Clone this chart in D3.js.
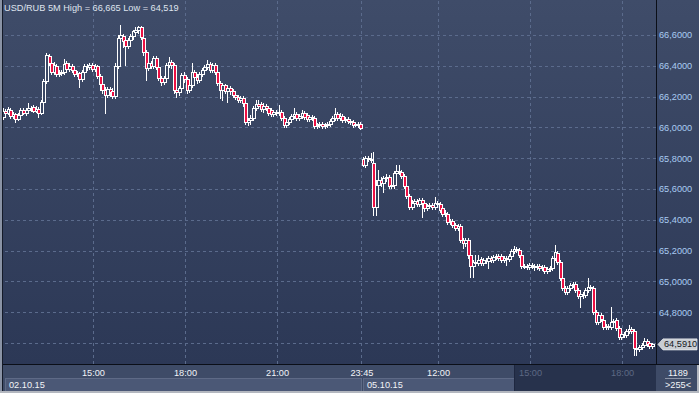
<!DOCTYPE html>
<html><head><meta charset="utf-8">
<script src="https://cdn.jsdelivr.net/npm/d3@7"></script>
<style>html,body{margin:0;padding:0;background:#2f3b58;overflow:hidden}svg{display:block}</style>
</head><body><svg id="c" width="699" height="393"></svg>
<script>
const title = "USD/RUB 5M High = 66,665 Low = 64,519";
const gridPrices = [64.6, 64.8, 65.0, 65.2, 65.4, 65.6, 65.8, 66.0, 66.2, 66.4, 66.6];
const priceLabels = [64.8, 65.0, 65.2, 65.4, 65.6, 65.8, 66.0, 66.2, 66.4, 66.6];
const timeTickIdx = [35, 71, 107, 140, 170, 206, 242];
const timeTickLabels = ["15:00", "18:00", "21:00", "23:45", "12:00", "15:00", "18:00"];
const dateLabels = ["02.10.15", "05.10.15"];
const dateStartIdx = [0, 141];
const lastPrice = 64.591;
const totalBars = 1189;
const visibleBars = 255;

const open = [
66.067,66.106,66.093,66.113,66.074,66.087,66.054,66.080,66.113,66.093,
66.113,66.126,66.132,66.106,66.119,66.093,66.165,66.301,66.464,66.418,
66.360,66.399,66.347,66.353,66.360,66.418,66.379,66.399,66.373,66.347,
66.353,66.314,66.360,66.399,66.392,66.405,66.379,66.399,66.334,66.282,
66.243,66.210,66.249,66.236,66.204,66.399,66.581,66.594,66.568,66.529,
66.568,66.594,66.619,66.632,66.652,66.581,66.490,66.386,66.418,66.399,
66.451,66.392,66.321,66.295,66.321,66.405,66.425,66.405,66.243,66.230,
66.256,66.340,66.314,66.243,66.275,66.360,66.327,66.308,66.347,66.373,
66.392,66.412,66.373,66.405,66.360,66.288,66.243,66.275,66.236,66.256,
66.236,66.210,66.197,66.178,66.191,66.158,66.035,66.048,66.061,66.126,
66.152,66.152,66.119,66.139,66.126,66.113,66.087,66.100,66.093,66.100,
66.061,66.015,66.035,66.054,66.074,66.087,66.061,66.074,66.093,66.080,
66.054,66.067,66.061,66.009,66.015,66.022,66.009,66.015,66.022,66.041,
66.061,66.087,66.061,66.074,66.048,66.054,66.041,66.035,66.015,66.022,
66.022,65.795,65.756,65.801,65.795,65.769,65.483,65.626,65.658,65.639,
65.671,65.678,65.619,65.626,65.704,65.717,65.710,65.684,65.619,65.555,
65.483,65.509,65.522,65.503,65.529,65.509,65.477,65.490,65.496,65.483,
65.509,65.503,65.477,65.438,65.438,65.386,65.392,65.366,65.347,65.360,
65.269,65.250,65.269,65.172,65.100,65.126,65.119,65.146,65.119,65.139,
65.132,65.152,65.139,65.159,65.165,65.165,65.139,65.152,65.146,65.165,
65.198,65.211,65.204,65.172,65.100,65.100,65.093,65.106,65.100,65.093,
65.100,65.087,65.093,65.067,65.080,65.087,65.152,65.185,65.126,65.022,
64.957,64.931,64.957,64.977,64.983,64.944,64.905,64.918,64.912,64.944,
64.964,64.957,64.801,64.736,64.782,64.749,64.704,64.710,64.704,64.736,
64.749,64.697,64.639,64.658,64.652,64.678,64.691,64.678,64.567,64.561,
64.574,64.587,64.613,64.600,64.580];

const high = [
66.126,66.119,66.132,66.126,66.100,66.093,66.093,66.126,66.126,66.126,
66.158,66.139,66.145,66.139,66.132,66.178,66.314,66.483,66.477,66.438,
66.425,66.412,66.373,66.373,66.444,66.431,66.418,66.412,66.386,66.366,
66.360,66.373,66.412,66.412,66.418,66.418,66.412,66.405,66.347,66.295,
66.262,66.262,66.262,66.256,66.418,66.600,66.665,66.606,66.587,66.581,
66.606,66.632,66.652,66.658,66.658,66.594,66.503,66.438,66.431,66.464,
66.464,66.405,66.334,66.334,66.418,66.457,66.438,66.418,66.256,66.269,
66.353,66.360,66.327,66.288,66.418,66.373,66.347,66.360,66.386,66.405,
66.438,66.425,66.418,66.418,66.373,66.301,66.288,66.282,66.269,66.269,
66.249,66.223,66.210,66.204,66.204,66.171,66.061,66.080,66.139,66.178,
66.178,66.165,66.158,66.152,66.139,66.126,66.113,66.113,66.145,66.113,
66.074,66.048,66.067,66.087,66.126,66.100,66.087,66.113,66.106,66.093,
66.080,66.080,66.074,66.028,66.035,66.035,66.028,66.035,66.054,66.074,
66.126,66.100,66.093,66.087,66.067,66.067,66.054,66.048,66.035,66.035,
66.035,65.808,65.814,65.814,65.834,65.840,65.658,65.723,65.678,65.684,
65.697,65.691,65.645,65.717,65.756,65.756,65.723,65.697,65.632,65.568,
65.529,65.535,65.535,65.542,65.542,65.522,65.503,65.509,65.509,65.548,
65.522,65.516,65.490,65.464,65.451,65.405,65.405,65.379,65.373,65.373,
65.282,65.282,65.282,65.185,65.139,65.172,65.172,65.159,65.152,65.152,
65.165,65.165,65.172,65.178,65.178,65.178,65.165,65.165,65.178,65.211,
65.230,65.224,65.217,65.185,65.113,65.113,65.119,65.119,65.113,65.113,
65.113,65.106,65.106,65.093,65.100,65.165,65.236,65.198,65.139,65.035,
64.970,64.970,64.990,64.996,64.996,64.957,64.931,64.931,64.957,65.022,
64.977,64.970,64.814,64.795,64.795,64.762,64.723,64.723,64.834,64.756,
64.762,64.710,64.671,64.671,64.691,64.717,64.704,64.691,64.580,64.587,
64.600,64.632,64.626,64.613,64.600];

const low = [
66.054,66.074,66.087,66.061,66.061,66.035,66.048,66.074,66.087,66.080,
66.100,66.106,66.100,66.100,66.067,66.087,66.152,66.288,66.405,66.347,
66.347,66.334,66.334,66.340,66.347,66.366,66.366,66.360,66.334,66.334,
66.262,66.301,66.347,66.373,66.379,66.366,66.366,66.321,66.243,66.223,
66.093,66.197,66.204,66.191,66.191,66.386,66.535,66.522,66.405,66.516,
66.555,66.574,66.600,66.613,66.574,66.470,66.308,66.373,66.386,66.386,
66.379,66.308,66.275,66.282,66.308,66.392,66.386,66.223,66.197,66.210,
66.243,66.295,66.223,66.230,66.262,66.308,66.288,66.295,66.334,66.353,
66.379,66.360,66.360,66.347,66.275,66.191,66.178,66.223,66.165,66.217,
66.197,66.184,66.165,66.165,66.139,66.022,66.015,66.022,66.048,66.113,
66.126,66.106,66.100,66.113,66.080,66.074,66.074,66.080,66.080,66.048,
66.002,66.002,66.022,66.041,66.061,66.048,66.048,66.061,66.054,66.041,
66.041,66.048,65.996,65.996,66.002,65.996,65.996,66.002,66.009,66.028,
66.048,66.048,66.048,66.035,66.035,66.028,66.022,66.002,66.009,66.002,
65.989,65.749,65.743,65.782,65.775,65.431,65.431,65.594,65.619,65.581,
65.652,65.606,65.606,65.606,65.691,65.697,65.671,65.606,65.542,65.470,
65.470,65.496,65.490,65.490,65.418,65.457,65.464,65.477,65.470,65.470,
65.490,65.451,65.425,65.425,65.373,65.373,65.353,65.334,65.334,65.256,
65.217,65.230,65.152,65.028,65.028,65.100,65.106,65.106,65.106,65.119,
65.087,65.126,65.126,65.146,65.139,65.126,65.126,65.106,65.132,65.152,
65.185,65.191,65.159,65.087,65.087,65.080,65.080,65.087,65.074,65.080,
65.074,65.074,65.054,65.054,65.067,65.074,65.139,65.113,65.009,64.944,
64.918,64.918,64.944,64.964,64.931,64.892,64.834,64.892,64.899,64.931,
64.944,64.788,64.723,64.723,64.743,64.691,64.691,64.691,64.691,64.723,
64.684,64.626,64.626,64.639,64.639,64.665,64.665,64.519,64.522,64.548,
64.561,64.574,64.580,64.567,64.567];

const close = [
66.106,66.093,66.119,66.074,66.087,66.054,66.080,66.113,66.093,66.113,
66.126,66.119,66.106,66.119,66.093,66.165,66.301,66.470,66.418,66.360,
66.405,66.347,66.353,66.360,66.412,66.379,66.399,66.373,66.347,66.353,
66.314,66.360,66.399,66.392,66.405,66.379,66.399,66.334,66.282,66.243,
66.210,66.249,66.230,66.204,66.399,66.581,66.600,66.561,66.529,66.568,
66.594,66.626,66.632,66.652,66.587,66.490,66.386,66.418,66.399,66.451,
66.392,66.321,66.295,66.321,66.405,66.425,66.405,66.243,66.230,66.256,
66.340,66.314,66.243,66.275,66.360,66.327,66.308,66.347,66.373,66.392,
66.412,66.373,66.405,66.360,66.288,66.243,66.275,66.236,66.256,66.236,
66.210,66.197,66.178,66.191,66.158,66.035,66.048,66.061,66.126,66.152,
66.139,66.119,66.139,66.126,66.093,66.087,66.100,66.093,66.100,66.061,
66.015,66.035,66.054,66.074,66.087,66.061,66.074,66.093,66.067,66.054,
66.067,66.061,66.009,66.015,66.022,66.009,66.015,66.022,66.041,66.061,
66.087,66.061,66.074,66.048,66.054,66.041,66.035,66.015,66.022,66.015,
65.996,65.756,65.801,65.795,65.788,65.483,65.626,65.658,65.639,65.671,
65.678,65.619,65.626,65.704,65.717,65.710,65.684,65.619,65.555,65.483,
65.509,65.522,65.503,65.529,65.509,65.477,65.490,65.496,65.483,65.509,
65.503,65.464,65.438,65.444,65.386,65.392,65.366,65.347,65.360,65.269,
65.250,65.269,65.172,65.100,65.126,65.119,65.139,65.119,65.139,65.132,
65.152,65.139,65.159,65.165,65.152,65.139,65.152,65.146,65.165,65.198,
65.211,65.204,65.172,65.100,65.100,65.093,65.106,65.100,65.093,65.100,
65.087,65.093,65.067,65.080,65.087,65.152,65.191,65.126,65.022,64.957,
64.931,64.957,64.977,64.983,64.944,64.905,64.918,64.912,64.944,64.964,
64.957,64.801,64.736,64.782,64.756,64.704,64.710,64.704,64.736,64.743,
64.697,64.639,64.658,64.652,64.678,64.691,64.678,64.567,64.561,64.574,
64.587,64.613,64.593,64.580,64.591];

const W = 699, H = 393;
const plotL = 3, plotR = 656, plotB = 364;
const FONT = "'Liberation Sans', Arial, sans-serif";
const svg = d3.select("#c");

const x = d3.scaleLinear().domain([0, visibleBars - 1]).range([3.5, 652.8]);
const y = d3.scaleLinear().domain([64.6, 66.6]).range([343, 35]);

const defs = svg.append("defs");
const g = defs.append("linearGradient").attr("id", "bg")
  .attr("gradientUnits", "userSpaceOnUse").attr("x1", 0).attr("y1", 0).attr("x2", 0).attr("y2", plotB);
g.append("stop").attr("offset", 0).attr("stop-color", "#3f4c69");
g.append("stop").attr("offset", 1).attr("stop-color", "#2c3856");

// backgrounds
svg.append("rect").attr("x", 0).attr("y", 0).attr("width", W).attr("height", H).attr("fill", "#3d4a66");
svg.append("rect").attr("x", 0).attr("y", 0).attr("width", W).attr("height", plotB).attr("fill", "url(#bg)");

// grid lines via axes
const gridY = svg.append("g").attr("transform", `translate(${plotR},0)`)
  .call(d3.axisLeft(y).tickValues(gridPrices).tickSize(plotR - plotL).tickFormat(""));
gridY.select(".domain").remove();
gridY.selectAll("line").attr("stroke", "#5b6b8c").attr("stroke-dasharray", "3,3")
  .attr("shape-rendering", "crispEdges");

const gridX = svg.append("g").attr("transform", `translate(0,${plotB})`)
  .call(d3.axisTop(x).tickValues(timeTickIdx).tickSize(plotB).tickFormat(""));
gridX.select(".domain").remove();
gridX.selectAll("line").attr("stroke", "#5b6b8c").attr("stroke-dasharray", "3,3")
  .attr("shape-rendering", "crispEdges");

// candles
const data = d3.range(visibleBars).map(i => ({i, o: open[i], h: high[i], l: low[i], c: close[i]}));
const cg = svg.append("g").attr("shape-rendering", "crispEdges");
data.forEach(d => {
  const cx = Math.round(x(d.i));
  const yH = Math.round(y(d.h)), yL = Math.round(y(d.l));
  const yO = y(d.o), yC = y(d.c);
  const top = Math.round(Math.min(yO, yC)), bot = Math.round(Math.max(yO, yC));
  cg.append("line").attr("x1", cx - 0.5).attr("x2", cx - 0.5).attr("y1", yH).attr("y2", yL + 1)
    .attr("stroke", "#ffffff").attr("stroke-width", 1);
  cg.append("rect").attr("x", cx - 1.5).attr("y", top + 0.5)
    .attr("width", 3).attr("height", Math.max(bot - top, 1))
    .attr("fill", d.c < d.o ? "#ec1043" : "url(#bg)")
    .attr("stroke", "#ffffff").attr("stroke-width", 1);
});

// title
svg.append("text").attr("x", 4).attr("y", 11).attr("fill", "#dfe4ee")
  .attr("font-family", FONT).attr("font-size", 9.2).text(title);

// right axis
svg.append("line").attr("x1", plotR + 0.5).attr("x2", plotR + 0.5).attr("y1", 0).attr("y2", 391)
  .attr("stroke", "#0b0f18").attr("shape-rendering", "crispEdges");
const ya = svg.append("g").attr("transform", `translate(${plotR},0)`)
  .call(d3.axisRight(y).tickValues(priceLabels).tickSize(0).tickPadding(3)
    .tickFormat(v => d3.format(".4f")(v).replace(".", ",")));
ya.select(".domain").remove();
ya.selectAll("text").attr("fill", "#a9cbf2").attr("font-family", FONT).attr("font-size", 9.2);

// bottom area
svg.append("rect").attr("x", 0).attr("y", plotB + 1).attr("width", W).attr("height", H - plotB - 1).attr("fill", "#3e4b67");
svg.append("line").attr("x1", plotL).attr("x2", W).attr("y1", plotB + 0.5).attr("y2", plotB + 0.5)
  .attr("stroke", "#0b0f18").attr("shape-rendering", "crispEdges");
dateStartIdx.forEach((s, k) => {
  const x0 = k === 0 ? 5 : Math.round(x(s)) - 1;
  const x1 = k === 0 ? Math.round(x(140)) : 514;
  svg.append("rect").attr("x", x0 + 0.5).attr("y", 378.5).attr("width", x1 - x0).attr("height", 14)
    .attr("fill", "#4b5876").attr("stroke", "#5e6a86").attr("shape-rendering", "crispEdges");
  svg.append("text").attr("x", x0 + 4).attr("y", 387.5).attr("fill", "#f2f4f8")
    .attr("font-family", FONT).attr("font-size", 9.2).text(dateLabels[k]);
});
// dark preview region
svg.append("rect").attr("x", 515).attr("y", plotB + 1).attr("width", plotR - 515).attr("height", 27)
  .attr("fill", "#27324c");
svg.append("line").attr("x1", 514.5).attr("x2", 514.5).attr("y1", plotB + 1).attr("y2", 392)
  .attr("stroke", "#1e2740").attr("shape-rendering", "crispEdges");

const xa = svg.append("g").attr("transform", `translate(0,${plotB})`)
  .call(d3.axisBottom(x).tickValues(timeTickIdx).tickSize(0).tickPadding(5)
    .tickFormat((d, k) => timeTickLabels[k]));
xa.select(".domain").remove();
xa.selectAll("text").attr("font-family", FONT).attr("font-size", 9.2)
  .attr("fill", d => x(d) > 515 ? "#5d6984" : "#f2f4f8");

// bottom-right counter box
svg.append("text").attr("x", 678).attr("y", 375.5).attr("text-anchor", "middle").attr("fill", "#f2f4f8")
  .attr("font-family", FONT).attr("font-size", 9.2).text(String(totalBars));
svg.append("line").attr("x1", 665).attr("x2", 691).attr("y1", 378.5).attr("y2", 378.5)
  .attr("stroke", "#8c95a8").attr("shape-rendering", "crispEdges");
svg.append("text").attr("x", 678).attr("y", 387.5).attr("text-anchor", "middle").attr("fill", "#f2f4f8")
  .attr("font-family", FONT).attr("font-size", 9.2).text(">" + visibleBars + "<");

// last price tag
const ly = y(lastPrice);
svg.append("path")
  .attr("d", `M658,${ly} L663,${ly - 5.5} L697,${ly - 5.5} L697,${ly + 5.5} L663,${ly + 5.5} Z`)
  .attr("fill", "#c9cdd3").attr("stroke", "#e6e8ec").attr("stroke-width", 0.8);
svg.append("text").attr("x", 664).attr("y", ly).attr("dy", "0.33em").attr("fill", "#15181e")
  .attr("font-family", FONT).attr("font-size", 9.2).text(d3.format(".4f")(lastPrice).replace(".", ","));

// outer frame
svg.append("rect").attr("x", 0).attr("y", 0).attr("width", 2).attr("height", H).attr("fill", "#8a93a5");
svg.append("line").attr("x1", 2.5).attr("x2", 2.5).attr("y1", 0).attr("y2", 391)
  .attr("stroke", "#141a28").attr("shape-rendering", "crispEdges");
svg.append("rect").attr("x", 0).attr("y", 391).attr("width", W).attr("height", 2).attr("fill", "#b3b7bf");
svg.append("rect").attr("x", 697).attr("y", plotB + 1).attr("width", 2).attr("height", H - plotB - 1).attr("fill", "#b3b7bf");
</script></body></html>
